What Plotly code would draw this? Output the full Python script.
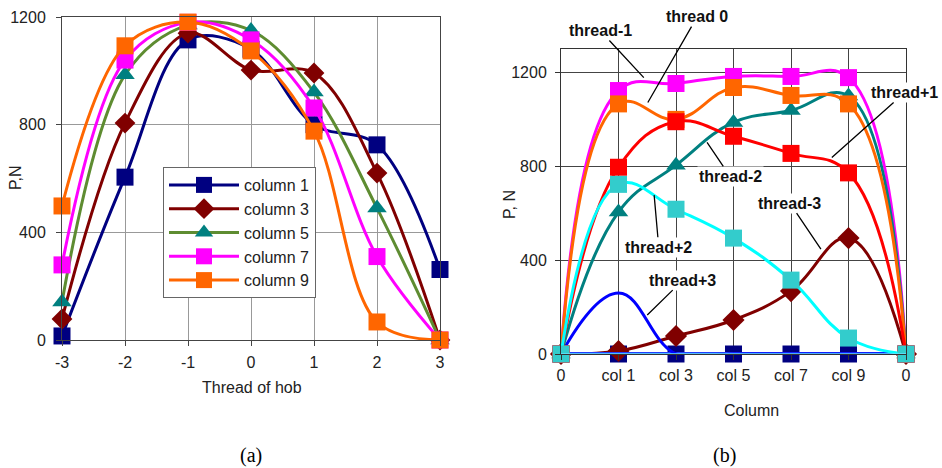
import plotly.graph_objects as go

# ---------- data: panel (a) ----------
threads = [-3, -2, -1, 0, 1, 2, 3]
thread_labels = ["-3", "-2", "-1", "0", "1", "2", "3"]
col1 = [15, 605, 1115, 1080, 800, 725, 262]
col3 = [78, 806, 1140, 1003, 992, 620, 0]
col5 = [141, 985, 1170, 1150, 921, 490, 0]
col7 = [279, 1040, 1180, 1115, 862, 310, 0]
col9 = [498, 1093, 1181, 1074, 776, 67, 0]

# ---------- data: panel (b) ----------
col_labels = ["0", "col 1", "col 3", "col 5", "col 7", "col 9", "0"]
col_pos = [0, 1, 2, 3, 4, 5, 6]
th_m1 = [0, 1123, 1153, 1183, 1183, 1178, 0]
th_0 = [0, 1066, 1000, 1136, 1102, 1066, 0]
th_p1 = [0, 796, 990, 928, 855, 772, 0]
th_m2 = [0, 605, 805, 987, 1038, 1100, 0]
th_p2 = [0, 723, 617, 494, 315, 68, 0]
th_m3 = [0, 13, 77, 145, 268, 494, 0]
th_p3 = [0, 260, 0, 0, 0, 0, 0]
th_zero = [0, 0, 0, 0, 0, 0, 0]

FONT = "Liberation Sans, Arial, sans-serif"
W, H = 942, 468

def px_x(p):
    return p / W

def px_y(p):
    return 1 - p / H

fig = go.Figure()

# panel (a) traces
a_series = [
    ("column 1", col1, "#000080", "#000080", "square", 17),
    ("column 3", col3, "#800000", "#800000", "diamond", 16),
    ("column 5", col5, "#5E8C31", "#008080", "triangle-up", 17),
    ("column 7", col7, "#FF00FF", "#FF00FF", "square", 17),
    ("column 9", col9, "#FF6600", "#FF6600", "square", 17),
]
for name, ys, lc, mc, sym, sz in a_series:
    fig.add_trace(go.Scatter(
        x=threads, y=ys, name=name, mode="lines+markers",
        line=dict(color=lc, width=3, shape="spline", smoothing=1.0),
        marker=dict(color=mc, symbol=sym, size=sz),
        xaxis="x", yaxis="y", cliponaxis=False, showlegend=True))

# panel (b) traces (draw order matters for overlaps)
b_series = [
    (th_zero, "#000080", "#000080", "square", 17, "markers", 3),
    (th_m3, "#800000", "#800000", "diamond", 17, "lines+markers", 3),
    (th_zero, "#2040FF", "#2040FF", "square", 1, "lines", 4),
    (th_p3, "#0000FF", "#0000FF", "square", 1, "lines", 3),
    (th_m1, "#FF00FF", "#FF00FF", "square", 17, "lines+markers", 3),
    (th_m2, "#008080", "#008080", "triangle-up", 17, "lines+markers", 3),
    (th_0, "#FF6600", "#FF6600", "square", 17, "lines+markers", 3),
    (th_p1, "#FF0000", "#FF0000", "square", 17, "lines+markers", 3),
    (th_p2, "#00FFFF", "#33CCCC", "square", 17, "lines+markers", 3),
    (th_zero, "#66E6FF", "#66E6FF", "square", 1, "lines", 1.5),
]
for ys, lc, mc, sym, sz, mode, lw in b_series:
    fig.add_trace(go.Scatter(
        x=col_pos, y=ys, mode=mode,
        line=dict(color=lc, width=lw, shape="spline", smoothing=1.2),
        marker=dict(color=mc, symbol=sym, size=sz),
        xaxis="x2", yaxis="y2", cliponaxis=False, showlegend=False))

tickfont = dict(family=FONT, size=16, color="#222")

fig.update_layout(
    width=W, height=H,
    margin=dict(l=0, r=0, t=0, b=0, autoexpand=False),
    paper_bgcolor="white", plot_bgcolor="white",
    font=dict(family=FONT, size=16, color="#222"),
    xaxis=dict(domain=[px_x(62), px_x(440)], range=[-3, 3],
               tickvals=threads, ticktext=thread_labels,
               ticks="outside", ticklen=5, tickcolor="#444", ticklabelstandoff=3,
               showgrid=True, gridcolor="#999", gridwidth=1,
               showline=True, linecolor="#444", linewidth=1, mirror=True,
               zeroline=False, tickfont=tickfont, anchor="y", automargin=False),
    yaxis=dict(domain=[px_y(340), px_y(17)], range=[0, 1200],
               tickvals=[0, 400, 800, 1200], ticks="outside", ticklen=5, tickcolor="#444",
               ticklabelstandoff=7,
               showgrid=True, gridcolor="#999", gridwidth=1,
               showline=True, linecolor="#444", linewidth=1, mirror=True,
               zeroline=False, tickfont=tickfont, anchor="x", automargin=False),
    xaxis2=dict(domain=[px_x(561), px_x(906)], range=[0, 6],
                tickvals=col_pos, ticktext=col_labels, ticks="outside", ticklen=5,
                ticklabelstandoff=2,
                tickcolor="#333", showgrid=True, gridcolor="#444", gridwidth=1,
                showline=True, linecolor="#333", linewidth=1, mirror=True,
                zeroline=False, tickfont=tickfont, anchor="y2", automargin=False),
    yaxis2=dict(domain=[px_y(354), px_y(49)], range=[0, 1300],
                tickvals=[0, 400, 800, 1200], ticks="outside", ticklen=5,
                ticklabelstandoff=5,
                tickcolor="#333", showgrid=True, gridcolor="#444", gridwidth=1,
                showline=True, linecolor="#333", linewidth=1, mirror=True,
                zeroline=False, tickfont=tickfont, anchor="x2", automargin=False),
    legend=dict(x=px_x(163), y=px_y(167), xanchor="left", yanchor="top",
                bgcolor="white", bordercolor="#666", borderwidth=1,
                font=dict(family=FONT, size=16, color="#222"),
                itemwidth=70, tracegroupgap=0, entrywidth=90),
)

# axis titles and captions
ann = [
    dict(text="P,N", x=px_x(15), y=px_y(178), textangle=-90),
    dict(text="Thread of hob", x=px_x(252), y=px_y(387)),
    dict(text="P, N", x=px_x(509), y=px_y(205), textangle=-90),
    dict(text="Column", x=px_x(751), y=px_y(410)),
]
for a in ann:
    fig.add_annotation(xref="paper", yref="paper", showarrow=False,
                       xanchor="center", yanchor="middle",
                       font=dict(family=FONT, size=16, color="#222"), **a)
for t, xp in [("(a)", 251), ("(b)", 724)]:
    fig.add_annotation(xref="paper", yref="paper", x=px_x(xp), y=px_y(455),
                       xanchor="center", yanchor="middle",
                       text=t, showarrow=False,
                       font=dict(family="Liberation Serif, Times New Roman, serif",
                                 size=20, color="black"))

# callout labels in panel (b): (label, pointer x, pointer y, text x, text y)
callouts = [
    ("thread-1", 1.44, 1178, 0.68, 1379),
    ("thread 0", 1.51, 1072, 2.37, 1438),
    ("thread+1", 4.71, 838, 5.98, 1115),
    ("thread-2", 2.54, 902, 2.94, 757),
    ("thread+2", 1.62, 677, 1.70, 455),
    ("thread-3", 4.52, 447, 3.98, 643),
    ("thread+3", 1.50, 166, 2.12, 315),
]
for label, x0, y0, tx, ty in callouts:
    fig.add_annotation(xref="x2", yref="y2", axref="x2", ayref="y2",
                       x=x0, y=y0, ax=tx, ay=ty, text="<b>%s</b>" % label,
                       showarrow=True, arrowhead=0, arrowwidth=1.3,
                       arrowcolor="black", bgcolor="white",
                       font=dict(family=FONT, size=16, color="#111"))

fig.write_html("out.html")
